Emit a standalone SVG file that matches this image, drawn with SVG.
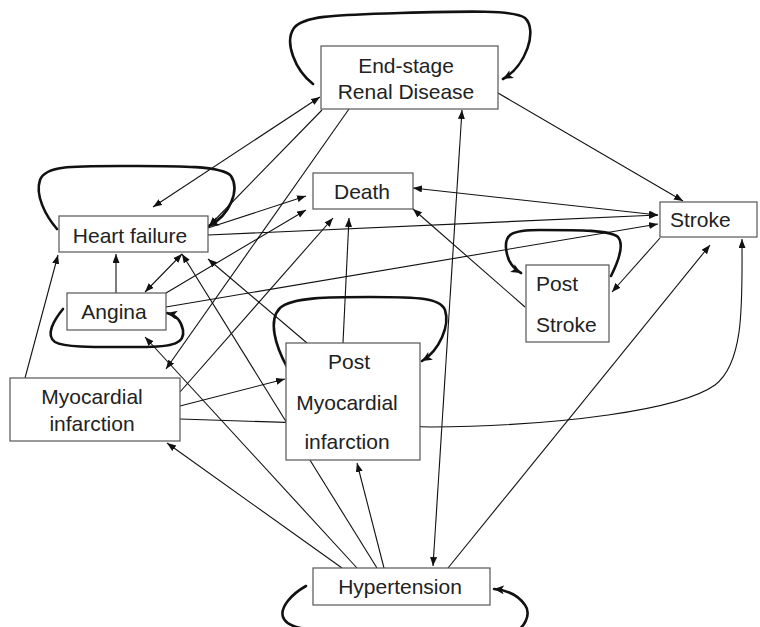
<svg xmlns="http://www.w3.org/2000/svg" width="760" height="627" viewBox="0 0 760 627">
<style>
.box{fill:#fff;stroke:#555;stroke-width:1.2}
.t{font-family:"Liberation Sans",Arial,sans-serif;font-size:21px;fill:#222}
.c{text-anchor:middle}
.ln{fill:none;stroke:#111;stroke-width:1.1}
.lp{fill:none;stroke:#111;stroke-width:2.6;stroke-linecap:round}
</style>
<defs>
<marker id="a" markerUnits="userSpaceOnUse" markerWidth="10" markerHeight="8" refX="9" refY="3.5" orient="auto-start-reverse"><path d="M0,0 L9,3.5 L0,7 z" fill="#111"/></marker>
<marker id="b" markerUnits="userSpaceOnUse" markerWidth="12" markerHeight="10" refX="10" refY="4.5" orient="auto"><path d="M0,0 L10,4.5 L0,9 L2.5,4.5 z" fill="#111"/></marker>
</defs>
<rect width="760" height="627" fill="#fff"/>
<g id="connectors">
<line class="ln" x1="153" y1="207" x2="320" y2="97" marker-start="url(#a)" marker-end="url(#a)"/>
<line class="ln" x1="322" y1="110" x2="209" y2="226" marker-end="url(#a)"/>
<line class="ln" x1="349" y1="109" x2="166" y2="369" marker-end="url(#a)"/>
<line class="ln" x1="498" y1="93" x2="683" y2="201" marker-end="url(#a)"/>
<line class="ln" x1="433" y1="566" x2="462" y2="110" marker-start="url(#a)" marker-end="url(#a)"/>
<line class="ln" x1="208" y1="228" x2="306" y2="196" marker-end="url(#a)"/>
<line class="ln" x1="208" y1="235" x2="658" y2="215" marker-end="url(#a)"/>
<line class="ln" x1="145" y1="292" x2="182" y2="254" marker-start="url(#a)" marker-end="url(#a)"/>
<line class="ln" x1="116" y1="293" x2="116" y2="254" marker-end="url(#a)"/>
<line class="ln" x1="166" y1="293" x2="306" y2="210" marker-end="url(#a)"/>
<line class="ln" x1="166" y1="307" x2="658" y2="224" marker-end="url(#a)"/>
<line class="ln" x1="25" y1="378" x2="58" y2="255" marker-end="url(#a)"/>
<line class="ln" x1="180" y1="392" x2="333" y2="218" marker-end="url(#a)"/>
<line class="ln" x1="180" y1="406" x2="285" y2="379" marker-end="url(#a)"/>
<path class="ln" d="M180,419 L430,427 C560,426 680,410 715,385 C745,362 742,300 742,239" marker-end="url(#a)"/>
<line class="ln" x1="307" y1="343" x2="208" y2="259" marker-end="url(#a)"/>
<line class="ln" x1="343" y1="343" x2="349" y2="218" marker-end="url(#a)"/>
<line class="ln" x1="413" y1="188" x2="658" y2="215" marker-start="url(#a)" marker-end="url(#a)"/>
<line class="ln" x1="660" y1="238" x2="612" y2="292" marker-end="url(#a)"/>
<line class="ln" x1="525" y1="307" x2="413" y2="209" marker-end="url(#a)"/>
<line class="ln" x1="342" y1="568" x2="167" y2="443" marker-end="url(#a)"/>
<line class="ln" x1="357" y1="568" x2="145" y2="337" marker-end="url(#a)"/>
<line class="ln" x1="377" y1="568" x2="182" y2="254" marker-end="url(#a)"/>
<line class="ln" x1="384" y1="568" x2="357" y2="463" marker-end="url(#a)"/>
<line class="ln" x1="448" y1="568" x2="710" y2="245" marker-end="url(#a)"/>
<path class="lp" d="M313,84 C295,70 284,42 294,28 C304,15 340,15 400,13 C470,11 515,10 525,18 C538,30 526,66 503,79" marker-end="url(#b)"/>
<path class="lp" d="M57,229 C45,215 35,195 40,180 C45,166 70,166 120,166 C170,166 222,165 231,176 C240,190 230,215 209,226" marker-end="url(#b)"/>
<path class="lp" d="M63,309 C54,320 45,335 55,342 C65,348 100,347 140,347 C175,347 185,343 183,330 C181,320 176,315 167,313" marker-end="url(#b)"/>
<path class="lp" d="M287,367 C275,345 268,320 280,308 C292,297 330,297 370,297 C420,297 440,298 445,310 C450,325 440,350 422,361" marker-end="url(#b)"/>
<path class="lp" d="M611,276 C618,262 625,245 618,237 C610,230 580,230 540,230 C510,230 505,235 506,248 C507,260 512,268 521,273" marker-end="url(#b)"/>
<path class="lp" d="M306,586 C290,595 280,608 283,617 C286,626 300,629 322,631 L510,633 C526,630 531,613 525,605 C518,595 506,590 494,589" marker-end="url(#b)"/>
</g>
<g id="esrd"><rect class="box" x="321" y="46" width="177" height="63"/><text class="t c" x="406" y="73">End-stage</text><text class="t c" x="406" y="99">Renal Disease</text></g>
<g id="death"><rect class="box" x="313" y="173" width="100" height="36"/><text class="t c" x="362" y="199">Death</text></g>
<g id="heart-failure"><rect class="box" x="59" y="216" width="149" height="36"/><text class="t c" x="130" y="243">Heart failure</text></g>
<g id="stroke"><rect class="box" x="660" y="202" width="97" height="35"/><text class="t" x="670" y="227">Stroke</text></g>
<g id="angina"><rect class="box" x="67" y="293" width="99" height="37"/><text class="t c" x="114" y="319">Angina</text></g>
<g id="post-stroke"><rect class="box" x="526" y="265" width="83" height="77"/><text class="t" x="536" y="291">Post</text><text class="t" x="536" y="332">Stroke</text></g>
<g id="myocardial-infarction"><rect class="box" x="10" y="378" width="170" height="63"/><text class="t c" x="92" y="404">Myocardial</text><text class="t c" x="92" y="431">infarction</text></g>
<g id="post-mi"><rect class="box" x="286" y="343" width="134" height="117"/><text class="t c" x="349" y="369">Post</text><text class="t c" x="347" y="410">Myocardial</text><text class="t c" x="347" y="449">infarction</text></g>
<g id="hypertension"><rect class="box" x="313" y="568" width="177" height="37"/><text class="t c" x="400" y="594">Hypertension</text></g>
</svg>
